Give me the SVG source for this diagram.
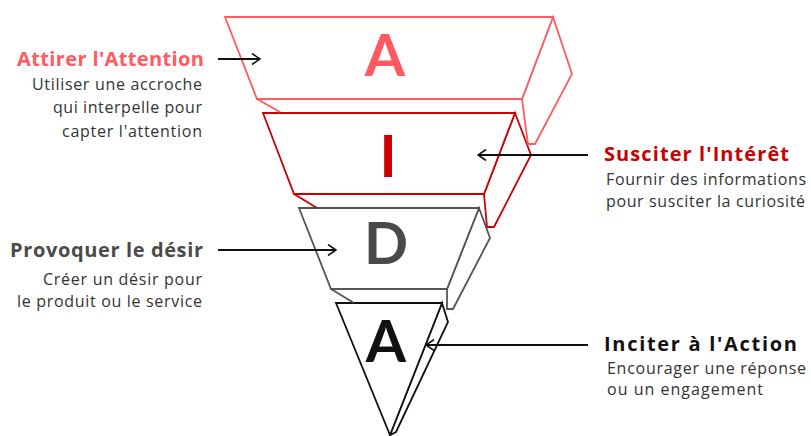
<svg xmlns="http://www.w3.org/2000/svg" width="811" height="436" viewBox="0 0 811 436">
<defs>
<style>
.t{font-family:"Open Sans","Noto Sans",sans-serif;font-weight:700;font-size:20px}
.s{font-family:"Open Sans","Noto Sans",sans-serif;font-size:16px;fill:#333}
.big{font-family:Lato,"Noto Sans",sans-serif;font-weight:700;font-size:58px;text-anchor:middle}
.b{fill:#fff;stroke-width:1.8;stroke-linejoin:miter}
.c{stroke:#111;stroke-width:1.8;fill:none}
</style>
<marker id="ah" viewBox="0 0 10 12" refX="9" refY="6" markerWidth="10" markerHeight="12" markerUnits="userSpaceOnUse" orient="auto">
<path d="M1,0.5 L9,6 L1,11.5" fill="none" stroke="#111" stroke-width="1.6"/>
</marker>
</defs>
<rect width="811" height="436" fill="#fff"/>
<g id="block-A2" stroke="#111">
<polygon class="b" points="442,303 448,322 396,432 390,435"/>
<polygon class="b" points="336,303 442,303 390,435"/>
<text class="big" x="386" y="362" fill="#111" stroke="none">A</text>
</g>
<g id="block-D" stroke="#555">
<polyline fill="none" stroke-width="1.8" points="331,289 354,303"/>
<polygon class="b" points="479,208 490,238 453,309 447,309 447,289"/>
<polygon class="b" points="299,208 479,208 447,289 331,289"/>
<text class="big" x="386" y="264" fill="#4a4a4a" stroke="none">D</text>
</g>
<g id="block-I" stroke="#cc0000">
<polyline fill="none" stroke-width="1.8" points="294,194 317,208"/>
<polygon class="b" points="515,113 531,155 494,227 487,227 484,194"/>
<polygon class="b" points="263,113 515,113 484,194 294,194"/>
<text class="big" x="388" y="177" fill="#cc0000" stroke="none">I</text>
</g>
<g id="block-A1" stroke="#ff5a5f">
<polyline fill="none" stroke-width="1.8" points="257,99 280,112"/>
<polygon class="b" points="553,17 572,74 535,144 528,144 522,99"/>
<polygon class="b" points="225,17 553,17 522,99 257,99"/>
<text class="big" x="385" y="76" fill="#ff5a5f" stroke="none">A</text>
</g>
<g id="connectors">
<line class="c" x1="218" y1="59" x2="260" y2="59" marker-end="url(#ah)"/>
<line class="c" x1="588" y1="155" x2="478" y2="155" marker-end="url(#ah)"/>
<line class="c" x1="218" y1="250" x2="336" y2="250" marker-end="url(#ah)"/>
<line class="c" x1="588" y1="345" x2="426" y2="345" marker-end="url(#ah)"/>
</g>
<g id="label-attention" text-anchor="end">
<text class="t" x="204" y="66" fill="#ff5a5f" textLength="187">Attirer l'Attention</text>
<text class="s" x="202" y="90" textLength="170">Utiliser une accroche</text>
<text class="s" x="202" y="113" textLength="149">qui interpelle pour</text>
<text class="s" x="202" y="137" textLength="140">capter l'attention</text>
</g>
<g id="label-interet">
<text class="t" x="604" y="161" fill="#cc0000" textLength="185">Susciter l'Intérêt</text>
<text class="s" x="606" y="185" textLength="200">Fournir des informations</text>
<text class="s" x="606" y="207" textLength="199">pour susciter la curiosité</text>
</g>
<g id="label-desir" text-anchor="end">
<text class="t" x="203" y="257" fill="#4a4a4a" textLength="193">Provoquer le désir</text>
<text class="s" x="202" y="285" textLength="159">Créer un désir pour</text>
<text class="s" x="202" y="307" textLength="185">le produit ou le service</text>
</g>
<g id="label-action">
<text class="t" x="604" y="351" fill="#111" textLength="193">Inciter à l'Action</text>
<text class="s" x="607" y="374" textLength="199">Encourager une réponse</text>
<text class="s" x="607" y="395" textLength="156">ou un engagement</text>
</g>
</svg>
